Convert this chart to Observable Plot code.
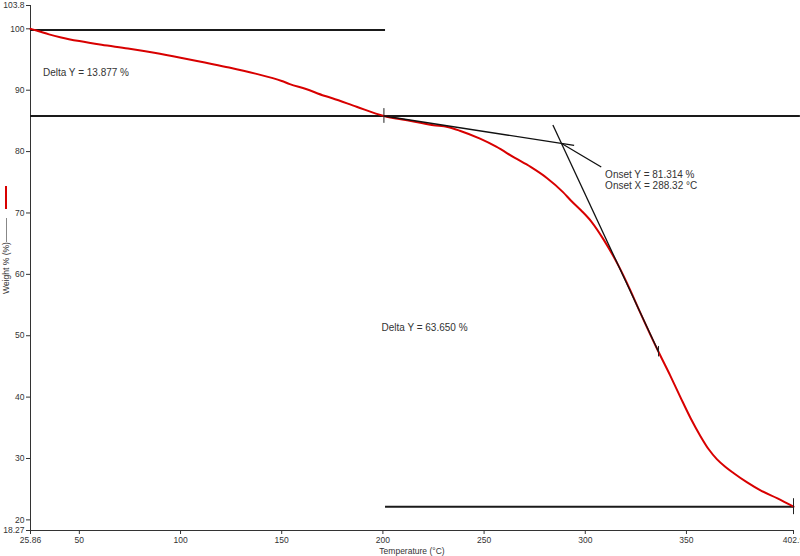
<!DOCTYPE html>
<html>
<head>
<meta charset="utf-8">
<script src="https://cdn.jsdelivr.net/npm/d3@7"></script>
<script src="https://cdn.jsdelivr.net/npm/@observablehq/plot@0.6"></script>
<style>
  html, body { margin: 0; padding: 0; background: #fff; }
  #wrap { position: relative; width: 800px; height: 556px; overflow: hidden; }
  #legend span { position: absolute; display: block; }
</style>
</head>
<body>
<div id="wrap">
  <div id="legend">
    <span style="left:5px; top:186px; width:2px; height:23px; background:#d80000;"></span>
    <span style="left:6px; top:218px; width:1px; height:24px; background:#888;"></span>
  </div>
</div>
<script>
// TGA curve (temperature °C, weight %)
const temps = [25.86, 30, 35, 41, 50, 61, 74, 87, 100, 112, 124, 137, 150, 154, 162, 171, 175, 187, 200.5,
  212, 225, 232, 238, 248, 256, 265, 273, 281, 289, 293, 298, 303, 309, 316.6, 322, 327, 336.3,
  342, 347, 352, 357, 361, 365, 369, 373.4, 380, 386.6, 395, 402.9];
const weights = [100.0, 99.6, 99.1, 98.6, 98.0, 97.4, 96.8, 96.1, 95.3, 94.5, 93.7, 92.7, 91.5, 91.0, 90.2, 89.1, 88.7, 87.3, 85.8,
  85.1, 84.3, 84.0, 83.4, 82.1, 80.8, 79.0, 77.5, 75.7, 73.4, 72.0, 70.4, 68.6, 65.7, 61.3, 57.6, 53.9, 47.3,
  43.5, 40.0, 36.6, 33.6, 31.5, 29.9, 28.7, 27.6, 26.1, 24.8, 23.5, 22.15];

const xTicks = [25.86, 50, 100, 150, 200, 250, 300, 350, 402.9];
const yTicks = [18.27, 20, 30, 40, 50, 60, 70, 80, 90, 100, 103.8];

// baselines used for the Delta Y steps
const baseX1 = [25.86, 25.86, 201.3];
const baseX2 = [201.3, 406.3, 402.9];
const baseY  = [99.8, 85.8, 22.15];

// onset tangents and leader
const tanX1 = [200.5, 284.0, 288.32];
const tanY1 = [85.8, 84.33, 81.314];
const tanX2 = [294.5, 336.2, 307.9];
const tanY2 = [81.0, 47.4, 77.5];

// cursor markers
const markX = [200.5, 336.2, 402.9];
const markY = [85.8, 47.4, 22.15];
const markHalf = [1.2, 0.85, 1.3];

// annotations
const noteText = ["Delta Y = 13.877 %", "Onset Y = 81.314 %", "Onset X = 288.32 °C", "Delta Y = 63.650 %"];
const noteX = [32.0, 309.8, 309.8, 199.3];
const noteY = [92.77, 76.3, 74.47, 51.3];

const curve = temps.map((t, i) => ({t, w: weights[i]}));
const bases = baseY.map((y, i) => ({x1: baseX1[i], x2: baseX2[i], y}));
const tans = tanX1.map((x, i) => ({x1: x, y1: tanY1[i], x2: tanX2[i], y2: tanY2[i]}));
const marks = markX.map((x, i) => ({x, y1: markY[i] - markHalf[i], y2: markY[i] + markHalf[i]}));
const notes = noteText.map((s, i) => ({s, x: noteX[i], y: noteY[i]}));

const chart = Plot.plot({
  width: 800,
  height: 556,
  marginLeft: 30,
  marginRight: 7,
  marginTop: 5,
  marginBottom: 26,
  style: {fontFamily: "'Liberation Sans', Arial, sans-serif", fontSize: "8.5px", color: "#333", background: "#fff", overflow: "visible"},
  x: {domain: [25.86, 402.9]},
  y: {domain: [18.27, 103.8]},
  marks: [
    Plot.axisX({ticks: xTicks, tickFormat: d => String(d), tickSize: 4, tickPadding: 2, label: null, stroke: "#333", fill: "#333"}),
    Plot.axisY({ticks: yTicks, tickFormat: d => String(d), tickSize: 4, tickPadding: 2, label: null, stroke: "#333", fill: "#333"}),
    Plot.ruleY([18.27], {stroke: "#333", strokeWidth: 1}),
    Plot.ruleX([25.86], {stroke: "#333", strokeWidth: 1}),
    Plot.ruleY(bases, {x1: "x1", x2: "x2", y: "y", stroke: "#1a1a1a", strokeWidth: 2}),
    Plot.line(curve, {x: "t", y: "w", stroke: "#d80000", strokeWidth: 2, curve: "monotone-x"}),
    Plot.link(tans, {x1: "x1", y1: "y1", x2: "x2", y2: "y2", stroke: "#111", strokeWidth: 1.3}),
    Plot.ruleX(marks, {x: "x", y1: "y1", y2: "y2", stroke: "#222", strokeWidth: 1}),
    Plot.text(notes, {x: "x", y: "y", text: "s", textAnchor: "start", fontSize: 10, fill: "#333"}),
    Plot.text(["Temperature (°C)"], {frameAnchor: "bottom", lineAnchor: "middle", dy: 21, text: d => d, fontSize: 8.5, fill: "#333"}),
    Plot.text(["Weight % (%)"], {frameAnchor: "left", textAnchor: "middle", lineAnchor: "middle", dx: -24, rotate: -90, text: d => d, fontSize: 8.5, fill: "#333"})
  ]
});
document.getElementById("wrap").appendChild(chart);
</script>
</body>
</html>
